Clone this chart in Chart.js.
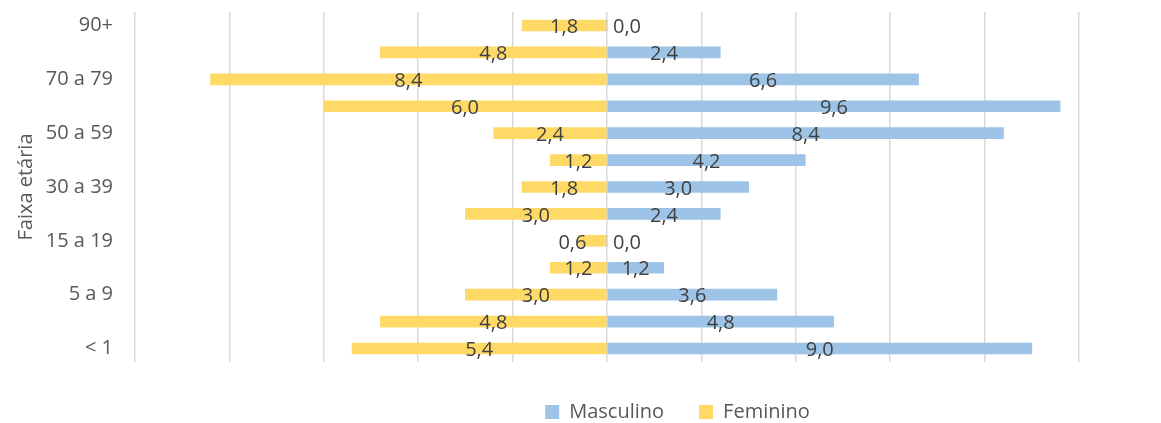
<!DOCTYPE html>
<html>
  <head>
    <title>Faixa etária</title>
    <script src="https://cdn.jsdelivr.net/npm/chart.js"></script>
    <style>
      body {
        margin: 0;
        background-color: #ffffff;
      }
      .chart-container {
        width: 1161px;
        height: 423px;
      }
    </style>
  </head>
  <body>
    <div class="chart-container">
      <canvas id="pyramidChart"></canvas>
    </div>

    <script>
      // Data (top row first)
      const ageGroups = [
        "90+", "80 a 89", "70 a 79", "60 a 69", "50 a 59", "40 a 49", "30 a 39",
        "20 a 29", "15 a 19", "10 a 14", "5 a 9", "1 a 4", "< 1"
      ];
      const masculino = [0.0, 2.4, 6.6, 9.6, 8.4, 4.2, 3.0, 2.4, 0.0, 1.2, 3.6, 4.8, 9.0];
      const feminino = [1.8, 4.8, 8.4, 6.0, 2.4, 1.2, 1.8, 3.0, 0.6, 1.2, 3.0, 4.8, 5.4];

      const textColor = "#595959";
      const labelColor = "#404040";
      const fontFamily = "'Open Sans', sans-serif";

      // Draws the value labels in the middle of each bar
      const barLabels = {
        id: "barLabels",
        afterDatasetsDraw(chart) {
          const ctx = chart.ctx;
          ctx.save();
          ctx.font = "20px " + fontFamily;
          ctx.fillStyle = labelColor;
          ctx.textAlign = "center";
          ctx.textBaseline = "middle";
          chart.data.datasets.forEach((ds, i) => {
            const meta = chart.getDatasetMeta(i);
            meta.data.forEach((bar, j) => {
              const value = Math.abs(ds.data[j]);
              const text = value.toFixed(1).replace(".", ",");
              const tw = ctx.measureText(text).width;
              const len = Math.abs(bar.x - bar.base);
              const dir = bar.x >= bar.base && ds.data[j] >= 0 ? 1 : -1;
              let x = (bar.x + bar.base) / 2;
              if (len < tw) {
                // too short: push the label out from the zero line
                x = bar.base + dir * (tw / 2 + 6 + len / 2);
              }
              ctx.fillText(text, x, bar.y + 2);
            });
          });
          ctx.restore();
        },
      };

      // Legend sits under the right-hand part of the plot, as in the original
      const legendShift = {
        id: "legendShift",
        afterLayout(chart) {
          chart.legend.left += 138;
          chart.legend.right += 138;
        },
      };

      new Chart(document.getElementById("pyramidChart"), {
        type: "bar",
        data: {
          labels: ageGroups,
          datasets: [
            {
              label: "Masculino",
              data: masculino,
              backgroundColor: "#9DC3E6",
              barThickness: 11,
            },
            {
              label: "Feminino",
              data: feminino.map((v) => -v),
              backgroundColor: "#FFD966",
              barThickness: 11,
            },
          ],
        },
        plugins: [barLabels, legendShift],
        options: {
          indexAxis: "y",
          responsive: true,
          maintainAspectRatio: false,
          animation: false,
          layout: { padding: { top: 12, right: 82, bottom: -9, left: 0 } },
          plugins: {
            tooltip: { enabled: false },
            legend: {
              position: "bottom",
              labels: {
                color: textColor,
                font: { size: 20, family: fontFamily },
                boxWidth: 14,
                boxHeight: 14,
                padding: 35,
              },
            },
          },
          scales: {
            x: {
              stacked: true,
              min: -10,
              max: 10,
              ticks: { display: false, stepSize: 2 },
              grid: { color: "#d9d9d9", lineWidth: 1.5, drawTicks: false },
              border: { display: false },
              afterFit: (scale) => { scale.height = 5; },
            },
            y: {
              stacked: true,
              grid: { display: false, drawTicks: false },
              border: { display: false },
              ticks: {
                color: textColor,
                font: { size: 20, family: fontFamily },
                padding: 22,
                autoSkip: false,
                callback: (val, i) => (i % 2 === 0 ? ageGroups[i] : ""),
              },
              title: {
                display: true,
                text: "Faixa etária",
                color: textColor,
                font: { size: 20, family: fontFamily },
                padding: { top: 14, bottom: 0 },
              },
              afterFit: (scale) => {
                scale.width = 135;
                scale.paddingTop = 0;
                scale.paddingBottom = 0;
              },
            },
          },
        },
      });
    </script>
  </body>
</html>
